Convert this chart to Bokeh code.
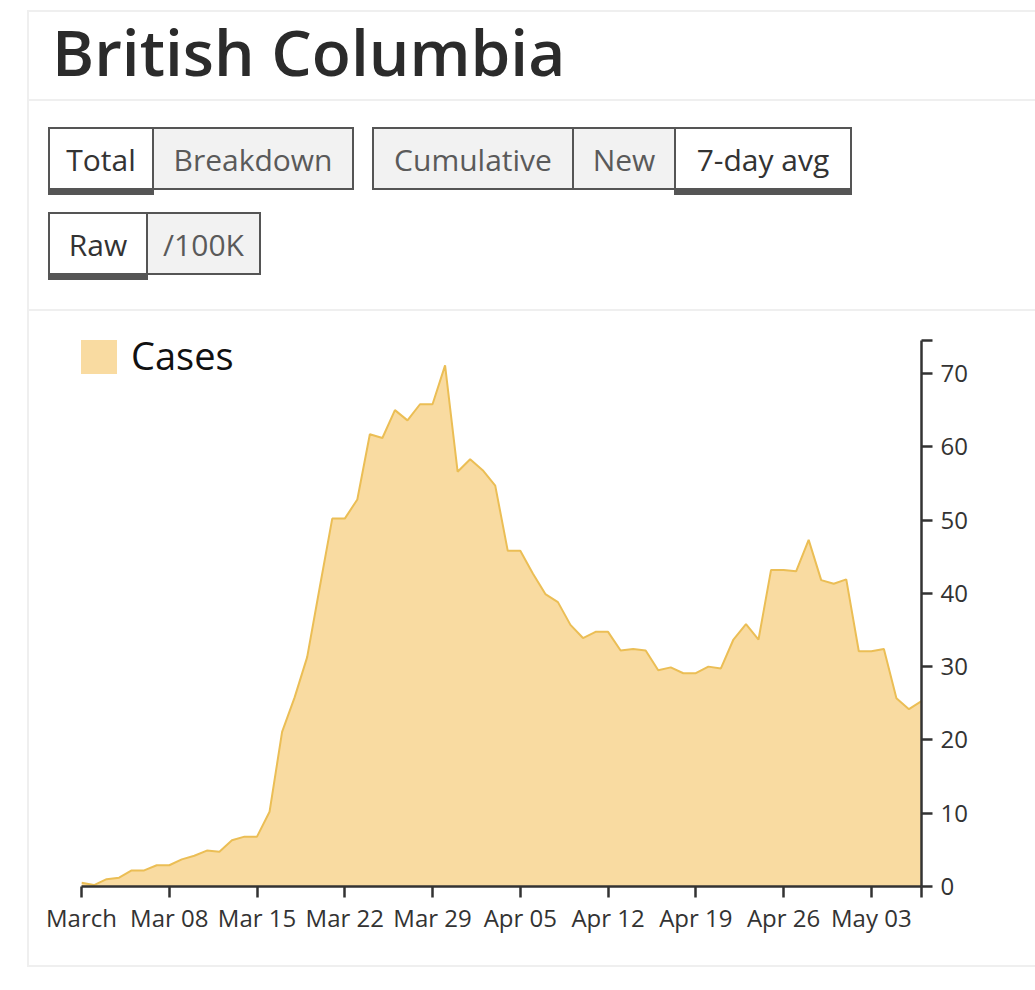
import pandas as pd
from bokeh.plotting import figure
from bokeh.models import (Range1d, FixedTicker, Legend, LegendItem, Div, ColumnDataSource)
from bokeh.layouts import column
from bokeh.embed import file_html
from bokeh.resources import INLINE

# ---- data ----
dates = pd.date_range("2020-03-01", "2020-05-07", freq="D")
cases_7day = [
    0.5, 0.2, 1.0, 1.2, 2.2, 2.2, 2.9, 2.9, 3.7, 4.2, 4.9, 4.75, 6.3, 6.8, 6.8,
    10.2, 21.1, 25.8, 31.3, 40.8, 50.2, 50.2, 52.8, 61.7, 61.2, 65.0, 63.6, 65.8,
    65.8, 71.1, 56.6,
    58.3, 56.8, 54.7, 45.8, 45.8, 42.7, 39.9, 38.8, 35.7, 33.9, 34.75, 34.75,
    32.2, 32.4, 32.2, 29.5, 29.9, 29.1, 29.1, 30.0, 29.75, 33.7, 35.8, 33.7,
    43.2, 43.2, 43.0, 47.3, 41.8, 41.3,
    41.9, 32.1, 32.1, 32.4, 25.7, 24.2, 25.3,
]
tick_dates = ["2020-03-01", "2020-03-08", "2020-03-15", "2020-03-22", "2020-03-29",
              "2020-04-05", "2020-04-12", "2020-04-19", "2020-04-26", "2020-05-03"]
tick_labels = ["March", "Mar 08", "Mar 15", "Mar 22", "Mar 29",
               "Apr 05", "Apr 12", "Apr 19", "Apr 26", "May 03"]
y_ticks = [0, 10, 20, 30, 40, 50, 60, 70]
y_max = 74.5

day_index = [int((d - dates[0]).days) for d in dates]
tick_pos = [int((pd.Timestamp(t) - dates[0]).days) for t in tick_dates]
x_end = day_index[-1]

src = ColumnDataSource(dict(x=day_index, y=cases_7day))

FONT = "Open Sans"
FILL = "#f9dba1"
LINE = "#ebbe55"

p = figure(width=1035, height=664, output_backend="svg", toolbar_location=None,
           x_range=Range1d(0, x_end), y_range=Range1d(0, y_max),
           y_axis_location="right",
           min_border_left=81, min_border_right=114, min_border_top=29,
           min_border_bottom=89, margin=0)
p.border_fill_color = None
p.background_fill_color = None
p.outline_line_color = None
p.grid.visible = False

area = p.varea(x="x", y1=0, y2="y", source=src, fill_color=FILL)
p.line(x="x", y="y", source=src, line_color=LINE, line_width=2)

# axes
xa = p.xaxis[0]
xa.ticker = FixedTicker(ticks=tick_pos + [x_end])
xa.major_label_overrides = {**{t: l for t, l in zip(tick_pos, tick_labels)}, x_end: ""}
ya = p.yaxis[0]
ya.ticker = FixedTicker(ticks=y_ticks + [y_max])
ya.major_label_overrides = {y_max: ""}
for ax in (xa, ya):
    ax.axis_line_color = "#333333"
    ax.axis_line_width = 2.5
    ax.major_tick_line_color = "#333333"
    ax.major_tick_line_width = 2.5
    ax.major_tick_out = 11
    ax.major_tick_in = 0
    ax.minor_tick_line_color = None
    ax.major_label_text_font = FONT
    ax.major_label_text_font_size = "24px"
    ax.major_label_text_color = "#333333"
xa.major_label_standoff = 3
ya.major_label_standoff = 8

legend = Legend(items=[LegendItem(label="Cases", renderers=[area])],
                location=(-5, 505), glyph_width=45, glyph_height=45,
                label_height=45, label_standoff=10, padding=0, margin=0,
                border_line_color=None, background_fill_color=None,
                background_fill_alpha=0,
                label_text_font=FONT, label_text_font_size="38px",
                label_text_color="#111111")
p.add_layout(legend)

# ---- header (title + toggle buttons) ----
def btn(left, top, width, label, selected):
    bg = "#ffffff" if selected else "#f2f2f2"
    col = "#333333" if selected else "#5a5a5a"
    html = (f'<div style="position:absolute;left:{left}px;top:{top}px;width:{width}px;height:63px;'
            f'box-sizing:border-box;border:2px solid #555;background:{bg};color:{col};'
            f'display:flex;align-items:center;justify-content:center;font-size:30px;'
            f'padding-top:3px;">{label}</div>')
    if selected:
        html += (f'<div style="position:absolute;left:{left}px;top:{top+61}px;width:{width}px;'
                 f'height:7px;background:#555;"></div>')
    return html

buttons = [
    (48, 127, 106, "Total", True), (152, 127, 202, "Breakdown", False),
    (372, 127, 202, "Cumulative", False), (572, 127, 104, "New", False),
    (674, 127, 178, "7-day avg", True),
    (48, 212, 100, "Raw", True), (146, 212, 115, "/100K", False),
]
html = (f'<div style="position:relative;width:1035px;height:311px;font-family:\'{FONT}\',sans-serif;">'
        '<div style="position:absolute;left:27px;top:10px;width:1010px;height:957px;box-sizing:border-box;'
        'border-left:2px solid #efefef;border-top:2px solid #efefef;border-bottom:2px solid #efefef;"></div>'
        '<div style="position:absolute;left:27px;top:99px;width:1010px;height:2px;background:#efefef;"></div>'
        '<div style="position:absolute;left:52px;top:20px;font-size:64px;font-weight:600;color:#2b2b2b;'
        'line-height:1;white-space:nowrap;">British Columbia</div>'
        + "".join(btn(*b) for b in buttons) +
        '<div style="position:absolute;left:27px;top:309px;width:1010px;height:2px;background:#efefef;"></div>'
        '</div>')
header = Div(text=html, width=1035, height=311, margin=0)

layout = column(header, p, spacing=0, margin=0)
open("out.html", "w").write(file_html(layout, INLINE))
